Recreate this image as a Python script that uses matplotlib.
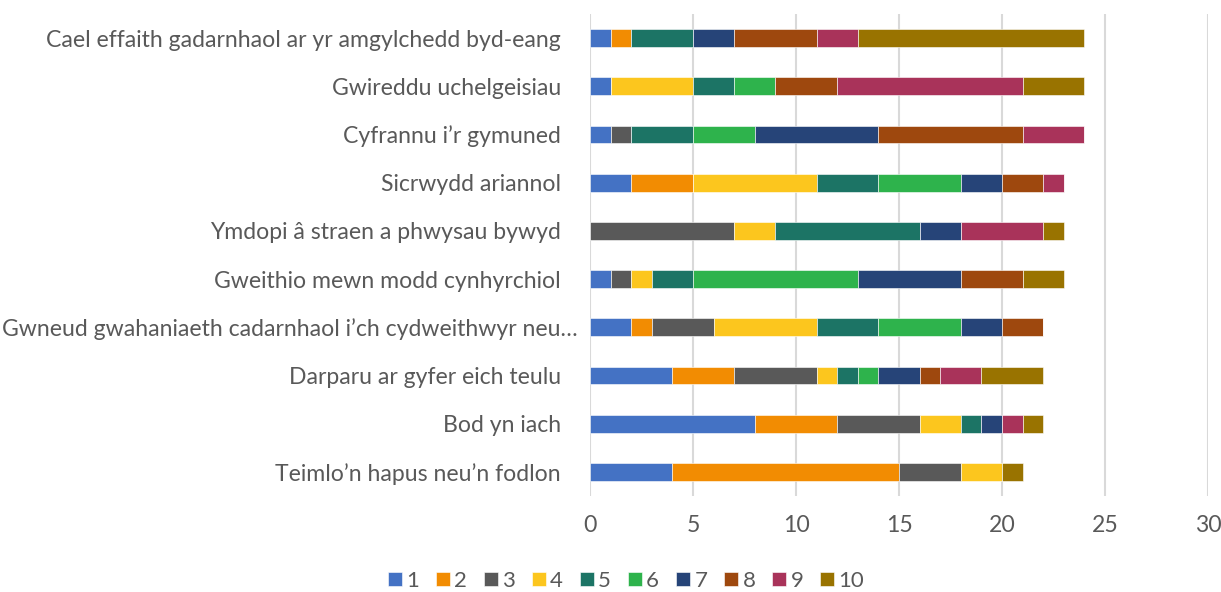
import matplotlib
matplotlib.use("Agg")
import matplotlib.pyplot as plt
import matplotlib.transforms as mtransforms
import numpy as np

categories = [
    "Cael effaith gadarnhaol ar yr amgylchedd byd-eang",
    "Gwireddu uchelgeisiau",
    "Cyfrannu i’r gymuned",
    "Sicrwydd ariannol",
    "Ymdopi â straen a phwysau bywyd",
    "Gweithio mewn modd cynhyrchiol",
    "Gwneud gwahaniaeth cadarnhaol i’ch cydweithwyr neu…",
    "Darparu ar gyfer eich teulu",
    "Bod yn iach",
    "Teimlo’n hapus neu’n fodlon",
]
series_names = ["1", "2", "3", "4", "5", "6", "7", "8", "9", "10"]
s1 = [1, 1, 1, 2, 0, 1, 2, 4, 8, 4]
s2 = [1, 0, 0, 3, 0, 0, 1, 3, 4, 11]
s3 = [0, 0, 1, 0, 7, 1, 3, 4, 4, 3]
s4 = [0, 4, 0, 6, 2, 1, 5, 1, 2, 2]
s5 = [3, 2, 3, 3, 7, 2, 3, 1, 1, 0]
s6 = [0, 2, 3, 4, 0, 8, 4, 1, 0, 0]
s7 = [2, 0, 6, 2, 2, 5, 2, 2, 1, 0]
s8 = [4, 3, 7, 2, 0, 3, 2, 1, 0, 0]
s9 = [2, 9, 3, 1, 4, 0, 0, 2, 1, 0]
s10 = [11, 3, 0, 0, 1, 2, 0, 3, 1, 1]
series = [s1, s2, s3, s4, s5, s6, s7, s8, s9, s10]
colors = ["#4472C4", "#F28C02", "#595959", "#FCC61E", "#1C7465",
          "#2EB34C", "#264478", "#9E480E", "#A9335A", "#997300"]

plt.rcParams['font.family'] = ['Lato', 'DejaVu Sans']
txt = "#595959"

fig = plt.figure(figsize=(12.21, 5.92), dpi=100)
ax = fig.add_axes([590/1221, 1-496/592, (1208-590)/1221, (496-14)/592])

y = np.arange(len(categories))[::-1]
left = np.zeros(len(categories))
for name, vals, c in zip(series_names, series, colors):
    vals = np.array(vals, dtype=float)
    ax.barh(y, vals, left=left, height=0.37, color=c, label=name,
            edgecolor="white", linewidth=0.4, zorder=3)
    left += vals

ax.set_xlim(0, 30)
ax.set_ylim(-0.5, len(categories) - 0.5)
ax.set_xticks(np.arange(0, 31, 5))
ax.set_yticks(y)
ax.set_yticklabels(categories)
ax.grid(axis="x", color="#D9D9D9", linewidth=1.5, zorder=0)
ax.set_axisbelow(True)
for s in ax.spines.values():
    s.set_visible(False)
ax.tick_params(axis="y", length=0, pad=21, labelsize=16.6, labelcolor=txt)
ax.tick_params(axis="x", length=0, pad=14, labelsize=16.6, labelcolor=txt)

# the truncated label sits a little further right in the reference
for lab in ax.get_yticklabels():
    if lab.get_text().endswith("…"):
        lab.set_transform(lab.get_transform() +
                          mtransforms.ScaledTranslation(17/100, 0, fig.dpi_scale_trans))

fig.legend(loc="center", bbox_to_anchor=(626/1221, 1-581/592), ncol=10,
           frameon=False, fontsize=16, labelcolor=txt, handlelength=0.63,
           handleheight=0.63, handletextpad=0.2, columnspacing=0.75)

fig.savefig("out.png", dpi=100)
